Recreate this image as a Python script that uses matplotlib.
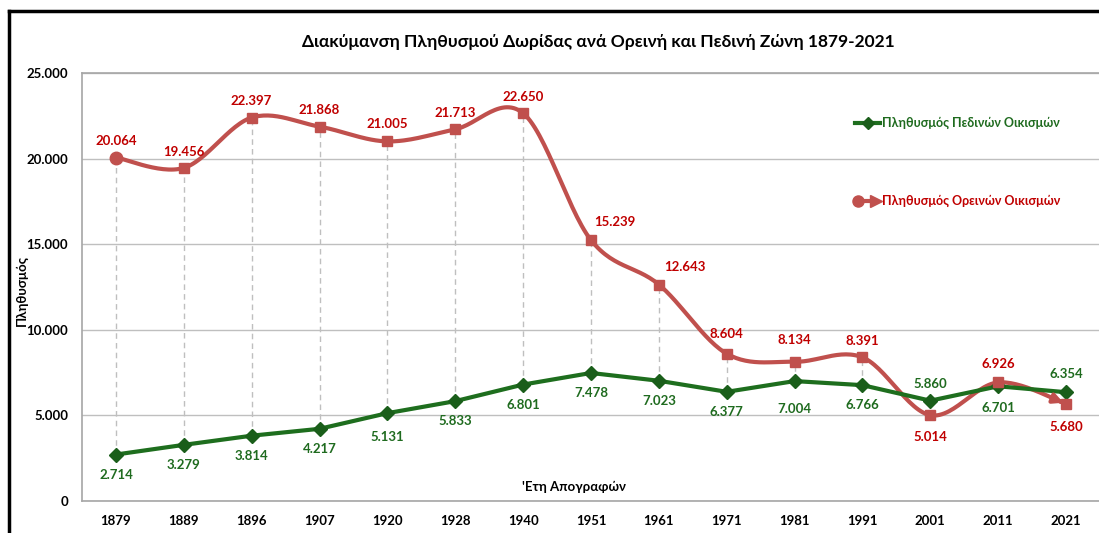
import numpy as np
import matplotlib
matplotlib.use('Agg')
from matplotlib import pyplot as plt
from matplotlib.lines import Line2D

plt.rcParams['font.family'] = ['Lato', 'DejaVu Sans']
plt.rcParams['font.weight'] = 'bold'

years = ['1879', '1889', '1896', '1907', '1920', '1928', '1940', '1951',
         '1961', '1971', '1981', '1991', '2001', '2011', '2021']
lowland = [2714, 3279, 3814, 4217, 5131, 5833, 6801, 7478,
           7023, 6377, 7004, 6766, 5860, 6701, 6354]
mountain = [20064, 19456, 22397, 21868, 21005, 21713, 22650, 15239,
            12643, 8604, 8134, 8391, 5014, 6926, 5680]
y_ticks = [0, 5000, 10000, 15000, 20000, 25000]

title = 'Διακύμανση Πληθυσμού Δωρίδας ανά Ορεινή και Πεδινή Ζώνη 1879-2021'
lab_low = 'Πληθυσμός Πεδινών Οικισμών'
lab_mnt = 'Πληθυσμός Ορεινών Οικισμών'

# label offsets in pixels (dx, dy)
off_mnt = [(0, 17), (0, 16), (0, 17), (0, 17), (0, 17), (0, 16), (0, 16), (24, 18),
           (26, 18), (0, 20), (0, 22), (0, 16), (0, -22), (0, 18), (0, -23)]
off_low = [(0, -20), (0, -20), (0, -20), (0, -20), (0, -24), (0, -20), (0, -20), (0, -20),
           (0, -20), (0, -20), (0, -28), (0, -20), (0, 17), (0, -22), (0, 18)]

RED = '#C0504D'
RED_T = '#C00000'
GRN = '#1E6E1E'
GRN_T = '#1F6B1F'
FS = 9.5


def fmt(v):
    return f'{v:,}'.replace(',', '.')


def catmull(x, y, n=30):
    x = np.asarray(x, float)
    y = np.asarray(y, float)
    px = np.concatenate([[x[0]], x, [x[-1]]])
    py = np.concatenate([[y[0]], y, [y[-1]]])
    ox, oy = [], []
    t = np.linspace(0, 1, n)
    for i in range(1, len(px) - 2):
        p0, p1, p2, p3 = (np.array([px[j], py[j]]) for j in range(i - 1, i + 3))
        c1 = p1 + (p2 - p0) / 6
        c2 = p2 - (p3 - p1) / 6
        pts = ((1 - t) ** 3)[:, None] * p1 + (3 * (1 - t) ** 2 * t)[:, None] * c1 \
            + (3 * (1 - t) * t ** 2)[:, None] * c2 + (t ** 3)[:, None] * p2
        ox.extend(pts[:, 0])
        oy.extend(pts[:, 1])
    return np.array(ox), np.array(oy)


fig = plt.figure(figsize=(10.99, 5.33), dpi=100)
ax = fig.add_axes([82 / 1099, 1 - 501 / 533, 1018 / 1099, 428 / 533])

x = np.arange(len(years))

# high-low lines
ax.vlines(x, np.minimum(lowland, mountain), np.maximum(lowland, mountain),
          colors='#BFBFBF', linestyles=(0, (4, 3)), linewidth=1, zorder=1)

ax.plot(x, lowland, color=GRN, linewidth=3, marker='D', markersize=7,
        markerfacecolor='#1A5E1A', markeredgecolor='#1A5E1A', zorder=3)

sx, sy = catmull(x, mountain)
ax.plot(sx, sy, color=RED, linewidth=3, zorder=2)
ax.plot(x[1:], mountain[1:], 's', color=RED, markersize=7, zorder=4)
ax.plot(x[:1], mountain[:1], 'o', color=RED, markersize=9, zorder=4)
ax.annotate('', xy=(sx[-1], sy[-1]), xytext=(sx[-6], sy[-6]),
            arrowprops=dict(arrowstyle='-|>', color=RED, lw=3, mutation_scale=14),
            zorder=4)

for i in range(len(years)):
    ax.annotate(fmt(mountain[i]), (x[i], mountain[i]), xytext=off_mnt[i],
                textcoords='offset pixels', ha='center', va='center',
                color=RED_T, fontsize=FS, fontweight='bold')
    ax.annotate(fmt(lowland[i]), (x[i], lowland[i]), xytext=off_low[i],
                textcoords='offset pixels', ha='center', va='center',
                color=GRN_T, fontsize=FS, fontweight='bold')

ax.set_xlim(-0.5, len(years) - 0.5)
ax.set_ylim(0, 25000)
ax.set_xticks(x)
ax.set_xticklabels(years, fontsize=FS, fontweight='bold')
ax.set_yticks(y_ticks)
ax.set_yticklabels([fmt(v) for v in y_ticks], fontsize=FS, fontweight='bold')
ax.tick_params(length=0, pad=10)
ax.grid(axis='y', color='#BFBFBF', linewidth=1)
ax.set_axisbelow(True)
for s in ['left', 'bottom', 'top']:
    ax.spines[s].set_color('#A6A6A6')
    ax.spines[s].set_linewidth(1.2)
ax.spines['right'].set_visible(False)

ax.text((574 - 82) / 1018, (501 - 487) / 428, "'Ετη Απογραφών", transform=ax.transAxes,
        ha='center', va='center', fontsize=FS, fontweight='bold')
fig.text(22 / 1099, 1 - 290 / 533, 'Πληθυσμός', rotation=90, ha='center', va='center',
         fontsize=FS, fontweight='bold')
fig.text(598 / 1099, 1 - 42 / 533, title, ha='center', va='center',
         fontsize=12.5, fontweight='bold')

# legend
gy = (501 - 123) / 428
ry = (501 - 201) / 428
lx0, lx1 = (855 - 82) / 1018, (880 - 82) / 1018
ax.plot([lx0, lx1], [gy, gy], color=GRN, linewidth=3, transform=ax.transAxes, clip_on=False)
ax.plot([(lx0 + lx1) / 2], [gy], 'D', color='#1A5E1A', markersize=6, transform=ax.transAxes)
ax.plot([lx0 + 0.003, lx1 - 0.006], [ry, ry], color=RED, linewidth=3, transform=ax.transAxes)
ax.plot([lx0 + 0.003], [ry], 'o', color=RED, markersize=8, transform=ax.transAxes)
ax.plot([lx1 - 0.004], [ry], '>', color=RED, markersize=8, transform=ax.transAxes)
ax.text((882 - 82) / 1018, gy, lab_low, transform=ax.transAxes, ha='left', va='center',
        color=GRN_T, fontsize=9, fontweight='bold')
ax.text((882 - 82) / 1018, ry, lab_mnt, transform=ax.transAxes, ha='left', va='center',
        color=RED_T, fontsize=9, fontweight='bold')

# outer border (top and left visible)
fig.add_artist(Line2D([9 / 1099, 9 / 1099], [0, 1 - 11 / 533], color='black', linewidth=2.5))
fig.add_artist(Line2D([9 / 1099, 1], [1 - 11 / 533, 1 - 11 / 533], color='black', linewidth=2.5))

fig.savefig('out.png', dpi=100)
